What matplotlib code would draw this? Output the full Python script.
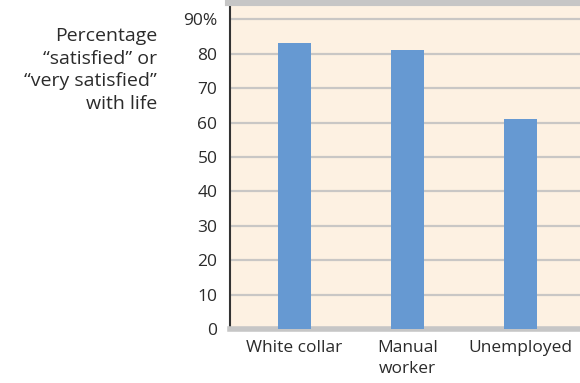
import matplotlib.pyplot as plt
import numpy as np

# data
categories = ['White collar', 'Manual\nworker', 'Unemployed']
satisfied = [83, 81, 61]
yticks = [0, 10, 20, 30, 40, 50, 60, 70, 80, 90]
ylabels = ['0', '10', '20', '30', '40', '50', '60', '70', '80', '90%']

plt.rcParams['font.family'] = ['Open Sans', 'DejaVu Sans']

fig = plt.figure(figsize=(5.8, 3.83), dpi=100)
ax = fig.add_axes([230/580, 54/383, 350/580, 329/383])
ax.set_facecolor('#fdf1e2')

x = np.arange(len(categories))
ax.bar(x, satisfied, width=0.29, color='#6699d2', zorder=3)

ax.set_xlim(-0.571, 2.527)
ax.set_ylim(0, 95.6)
ax.set_yticks(yticks)
ax.set_yticklabels(ylabels)
ax.set_xticks(x)
ax.set_xticklabels(categories, linespacing=1.4)
ax.tick_params(axis='both', length=0, labelsize=12.5, colors='#2b2b2b')
ax.tick_params(axis='y', pad=9)
ax.tick_params(axis='x', pad=8)

ax.yaxis.grid(True, color='#c9c7c5', lw=1.6, zorder=1)
ax.spines['right'].set_visible(False)
ax.spines['left'].set_color('#333333')
ax.spines['left'].set_linewidth(1.5)
ax.spines['bottom'].set_color('#c6c6c6')
ax.spines['bottom'].set_linewidth(4)
ax.spines['top'].set_color('#c6c6c6')
ax.spines['top'].set_linewidth(8)

fig.text(157/580, 1 - 70/383, 'Percentage\n\u201csatisfied\u201d or\n\u201cvery satisfied\u201d\nwith life',
         ha='right', va='center', fontsize=14, color='#2b2b2b', linespacing=1.32)

fig.savefig('out.png', dpi=100)
